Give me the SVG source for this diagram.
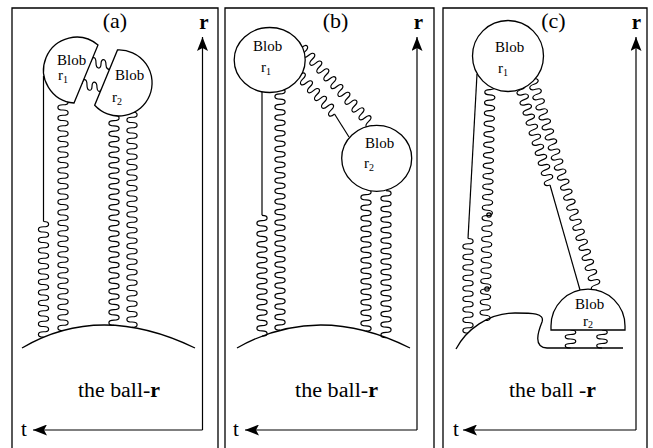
<svg xmlns="http://www.w3.org/2000/svg" width="653" height="448" viewBox="0 0 653 448">
<defs>
<style>
.fr{fill:none;stroke:#000;stroke-width:1.3}
.ax{fill:none;stroke:#000;stroke-width:1.2;marker-end:url(#ah)}
.ln{fill:none;stroke:#000;stroke-width:1.2}
.wv{fill:none;stroke:#000;stroke-width:1.2}
.ball{fill:none;stroke:#000;stroke-width:1.3}
.blob{fill:#fff;stroke:#000;stroke-width:1.3}
text{font-family:"Liberation Serif","Times New Roman",serif;fill:#000}
.ti{font-size:22px;text-anchor:middle}
.bl{font-size:15px}
.sub{font-size:10px}
.bt{font-size:20px;text-anchor:middle}
.axl{font-size:21px}
.axr{font-size:21px;font-weight:bold;text-anchor:middle}
</style>
<marker id="ah" markerUnits="userSpaceOnUse" viewBox="0 0 14 11" refX="14" refY="5.5" markerWidth="14" markerHeight="11" orient="auto">
<path d="M0,0 L14,5.5 L0,11 L3,5.5 Z" fill="#000"/>
</marker>
</defs>
<rect width="653" height="448" fill="#fff"/>

<g id="frames">
<path class="fr" d="M12,450 V8 H218 V450"/>
<path class="fr" d="M225,450 V8 H434 V450"/>
<path class="fr" d="M443,450 V8 H647 V450"/>
</g>

<g id="axes">
<path class="ax" d="M202.5,430 V37"/>
<path class="ax" d="M202.5,430 H33"/>
<path class="ax" d="M417,430 V37"/>
<path class="ax" d="M417,430 H245"/>
<path class="ax" d="M636,430 V37"/>
<path class="ax" d="M636,430 H463"/>
<text class="axr" x="204" y="29">r</text>
<text class="axr" x="418.5" y="29">r</text>
<text class="axr" x="636.5" y="29">r</text>
<text class="axl" x="21" y="436">t</text>
<text class="axl" x="233" y="436">t</text>
<text class="axl" x="453" y="436">t</text>
</g>

<g id="titles">
<text class="ti" x="115" y="28">(a)</text>
<text class="ti" x="335.5" y="28">(b)</text>
<text class="ti" x="553.5" y="28">(c)</text>
</g>

<g id="balls">
<path class="ball" d="M22,348 Q100,302 195,348"/>
<path class="ball" d="M237,348 Q318,302 410,348"/>
<path class="ball" d="M456,349 C466,330 488,313 515,313 C532,313 545,313 542,322 C538,332 533,347 547,348 L623,348"/>
<text class="bt" x="119" y="397" textLength="82" lengthAdjust="spacingAndGlyphs">the ball-<tspan font-weight="bold">r</tspan></text>
<text class="bt" x="336.5" y="397" textLength="83" lengthAdjust="spacingAndGlyphs">the ball-<tspan font-weight="bold">r</tspan></text>
<text class="bt" x="552.5" y="397" textLength="87" lengthAdjust="spacingAndGlyphs">the ball -<tspan font-weight="bold">r</tspan></text>
</g>

<g id="connectors">
<!-- panel a -->
<path class="ln" d="M43.5,76 V221.5"/>
<path class="wv" d="M43.5,221.5 c6.8,0 6.8,5.25 0,5.25 c-6.8,0 -6.8,5.25 0,5.25 c6.8,0 6.8,5.25 0,5.25 c-6.8,0 -6.8,5.25 0,5.25 c6.8,0 6.8,5.25 0,5.25 c-6.8,0 -6.8,5.25 0,5.25 c6.8,0 6.8,5.25 0,5.25 c-6.8,0 -6.8,5.25 0,5.25 c6.8,0 6.8,5.25 0,5.25 c-6.8,0 -6.8,5.25 0,5.25 c6.8,0 6.8,5.25 0,5.25 c-6.8,0 -6.8,5.25 0,5.25 c6.8,0 6.8,5.25 0,5.25 c-6.8,0 -6.8,5.25 0,5.25 c6.8,0 6.8,5.25 0,5.25 c-6.8,0 -6.8,5.25 0,5.25 c6.8,0 6.8,5.25 0,5.25 c-6.8,0 -6.8,5.25 0,5.25 c6.8,0 6.8,5.25 0,5.25 c-6.8,0 -6.8,5.25 0,5.25 c6.8,0 6.8,5.25 0,5.25 c-6.8,0 -6.8,5.25 0,5.25"/>
<path class="wv" d="M63,99.5 c6.8,0 6.8,5.25 0,5.25 c-6.8,0 -6.8,5.25 0,5.25 c6.8,0 6.8,5.25 0,5.25 c-6.8,0 -6.8,5.25 0,5.25 c6.8,0 6.8,5.25 0,5.25 c-6.8,0 -6.8,5.25 0,5.25 c6.8,0 6.8,5.25 0,5.25 c-6.8,0 -6.8,5.25 0,5.25 c6.8,0 6.8,5.25 0,5.25 c-6.8,0 -6.8,5.25 0,5.25 c6.8,0 6.8,5.25 0,5.25 c-6.8,0 -6.8,5.25 0,5.25 c6.8,0 6.8,5.25 0,5.25 c-6.8,0 -6.8,5.25 0,5.25 c6.8,0 6.8,5.25 0,5.25 c-6.8,0 -6.8,5.25 0,5.25 c6.8,0 6.8,5.25 0,5.25 c-6.8,0 -6.8,5.25 0,5.25 c6.8,0 6.8,5.25 0,5.25 c-6.8,0 -6.8,5.25 0,5.25 c6.8,0 6.8,5.25 0,5.25 c-6.8,0 -6.8,5.25 0,5.25 c6.8,0 6.8,5.25 0,5.25 c-6.8,0 -6.8,5.25 0,5.25 c6.8,0 6.8,5.25 0,5.25 c-6.8,0 -6.8,5.25 0,5.25 c6.8,0 6.8,5.25 0,5.25 c-6.8,0 -6.8,5.25 0,5.25 c6.8,0 6.8,5.25 0,5.25 c-6.8,0 -6.8,5.25 0,5.25 c6.8,0 6.8,5.25 0,5.25 c-6.8,0 -6.8,5.25 0,5.25 c6.8,0 6.8,5.25 0,5.25 c-6.8,0 -6.8,5.25 0,5.25 c6.8,0 6.8,5.25 0,5.25 c-6.8,0 -6.8,5.25 0,5.25 c6.8,0 6.8,5.25 0,5.25 c-6.8,0 -6.8,5.25 0,5.25 c6.8,0 6.8,5.25 0,5.25 c-6.8,0 -6.8,5.25 0,5.25 c6.8,0 6.8,5.25 0,5.25 c-6.8,0 -6.8,5.25 0,5.25 c6.8,0 6.8,5.25 0,5.25 c-6.8,0 -6.8,5.25 0,5.25"/>
<path class="wv" d="M114,115.3 c6.8,0 6.8,5.25 0,5.25 c-6.8,0 -6.8,5.25 0,5.25 c6.8,0 6.8,5.25 0,5.25 c-6.8,0 -6.8,5.25 0,5.25 c6.8,0 6.8,5.25 0,5.25 c-6.8,0 -6.8,5.25 0,5.25 c6.8,0 6.8,5.25 0,5.25 c-6.8,0 -6.8,5.25 0,5.25 c6.8,0 6.8,5.25 0,5.25 c-6.8,0 -6.8,5.25 0,5.25 c6.8,0 6.8,5.25 0,5.25 c-6.8,0 -6.8,5.25 0,5.25 c6.8,0 6.8,5.25 0,5.25 c-6.8,0 -6.8,5.25 0,5.25 c6.8,0 6.8,5.25 0,5.25 c-6.8,0 -6.8,5.25 0,5.25 c6.8,0 6.8,5.25 0,5.25 c-6.8,0 -6.8,5.25 0,5.25 c6.8,0 6.8,5.25 0,5.25 c-6.8,0 -6.8,5.25 0,5.25 c6.8,0 6.8,5.25 0,5.25 c-6.8,0 -6.8,5.25 0,5.25 c6.8,0 6.8,5.25 0,5.25 c-6.8,0 -6.8,5.25 0,5.25 c6.8,0 6.8,5.25 0,5.25 c-6.8,0 -6.8,5.25 0,5.25 c6.8,0 6.8,5.25 0,5.25 c-6.8,0 -6.8,5.25 0,5.25 c6.8,0 6.8,5.25 0,5.25 c-6.8,0 -6.8,5.25 0,5.25 c6.8,0 6.8,5.25 0,5.25 c-6.8,0 -6.8,5.25 0,5.25 c6.8,0 6.8,5.25 0,5.25 c-6.8,0 -6.8,5.25 0,5.25 c6.8,0 6.8,5.25 0,5.25 c-6.8,0 -6.8,5.25 0,5.25 c6.8,0 6.8,5.25 0,5.25 c-6.8,0 -6.8,5.25 0,5.25 c6.8,0 6.8,5.25 0,5.25 c-6.8,0 -6.8,5.25 0,5.25"/>
<path class="wv" d="M132,112 c6.8,0 6.8,5.25 0,5.25 c-6.8,0 -6.8,5.25 0,5.25 c6.8,0 6.8,5.25 0,5.25 c-6.8,0 -6.8,5.25 0,5.25 c6.8,0 6.8,5.25 0,5.25 c-6.8,0 -6.8,5.25 0,5.25 c6.8,0 6.8,5.25 0,5.25 c-6.8,0 -6.8,5.25 0,5.25 c6.8,0 6.8,5.25 0,5.25 c-6.8,0 -6.8,5.25 0,5.25 c6.8,0 6.8,5.25 0,5.25 c-6.8,0 -6.8,5.25 0,5.25 c6.8,0 6.8,5.25 0,5.25 c-6.8,0 -6.8,5.25 0,5.25 c6.8,0 6.8,5.25 0,5.25 c-6.8,0 -6.8,5.25 0,5.25 c6.8,0 6.8,5.25 0,5.25 c-6.8,0 -6.8,5.25 0,5.25 c6.8,0 6.8,5.25 0,5.25 c-6.8,0 -6.8,5.25 0,5.25 c6.8,0 6.8,5.25 0,5.25 c-6.8,0 -6.8,5.25 0,5.25 c6.8,0 6.8,5.25 0,5.25 c-6.8,0 -6.8,5.25 0,5.25 c6.8,0 6.8,5.25 0,5.25 c-6.8,0 -6.8,5.25 0,5.25 c6.8,0 6.8,5.25 0,5.25 c-6.8,0 -6.8,5.25 0,5.25 c6.8,0 6.8,5.25 0,5.25 c-6.8,0 -6.8,5.25 0,5.25 c6.8,0 6.8,5.25 0,5.25 c-6.8,0 -6.8,5.25 0,5.25 c6.8,0 6.8,5.25 0,5.25 c-6.8,0 -6.8,5.25 0,5.25 c6.8,0 6.8,5.25 0,5.25 c-6.8,0 -6.8,5.25 0,5.25 c6.8,0 6.8,5.25 0,5.25 c-6.8,0 -6.8,5.25 0,5.25 c6.8,0 6.8,5.25 0,5.25 c-6.8,0 -6.8,5.25 0,5.25 c6.8,0 6.8,5.25 0,5.25"/>
<path class="wv" d="M91,62 c1,-6 5,-6 5,1 c0,6 5,7 5,1 c0,-6 5,-6 5,1 c0,4 3,5 5,4"/>
<path class="wv" d="M82,84 c1,-6 5,-6 5,1.2 c0,6 5,7 5,1.2 c0,-6 5,-6 5,1.2 c0,4 3,5 4.5,2"/>
<!-- panel b -->
<path class="ln" d="M262,91.7 V215.35"/>
<path class="wv" d="M262,215.35 c6.8,0 6.8,5.25 0,5.25 c-6.8,0 -6.8,5.25 0,5.25 c6.8,0 6.8,5.25 0,5.25 c-6.8,0 -6.8,5.25 0,5.25 c6.8,0 6.8,5.25 0,5.25 c-6.8,0 -6.8,5.25 0,5.25 c6.8,0 6.8,5.25 0,5.25 c-6.8,0 -6.8,5.25 0,5.25 c6.8,0 6.8,5.25 0,5.25 c-6.8,0 -6.8,5.25 0,5.25 c6.8,0 6.8,5.25 0,5.25 c-6.8,0 -6.8,5.25 0,5.25 c6.8,0 6.8,5.25 0,5.25 c-6.8,0 -6.8,5.25 0,5.25 c6.8,0 6.8,5.25 0,5.25 c-6.8,0 -6.8,5.25 0,5.25 c6.8,0 6.8,5.25 0,5.25 c-6.8,0 -6.8,5.25 0,5.25 c6.8,0 6.8,5.25 0,5.25 c-6.8,0 -6.8,5.25 0,5.25 c6.8,0 6.8,5.25 0,5.25 c-6.8,0 -6.8,5.25 0,5.25 c6.8,0 6.8,5.25 0,5.25"/>
<path class="wv" d="M280,88.7 c6.8,0 6.8,5.25 0,5.25 c-6.8,0 -6.8,5.25 0,5.25 c6.8,0 6.8,5.25 0,5.25 c-6.8,0 -6.8,5.25 0,5.25 c6.8,0 6.8,5.25 0,5.25 c-6.8,0 -6.8,5.25 0,5.25 c6.8,0 6.8,5.25 0,5.25 c-6.8,0 -6.8,5.25 0,5.25 c6.8,0 6.8,5.25 0,5.25 c-6.8,0 -6.8,5.25 0,5.25 c6.8,0 6.8,5.25 0,5.25 c-6.8,0 -6.8,5.25 0,5.25 c6.8,0 6.8,5.25 0,5.25 c-6.8,0 -6.8,5.25 0,5.25 c6.8,0 6.8,5.25 0,5.25 c-6.8,0 -6.8,5.25 0,5.25 c6.8,0 6.8,5.25 0,5.25 c-6.8,0 -6.8,5.25 0,5.25 c6.8,0 6.8,5.25 0,5.25 c-6.8,0 -6.8,5.25 0,5.25 c6.8,0 6.8,5.25 0,5.25 c-6.8,0 -6.8,5.25 0,5.25 c6.8,0 6.8,5.25 0,5.25 c-6.8,0 -6.8,5.25 0,5.25 c6.8,0 6.8,5.25 0,5.25 c-6.8,0 -6.8,5.25 0,5.25 c6.8,0 6.8,5.25 0,5.25 c-6.8,0 -6.8,5.25 0,5.25 c6.8,0 6.8,5.25 0,5.25 c-6.8,0 -6.8,5.25 0,5.25 c6.8,0 6.8,5.25 0,5.25 c-6.8,0 -6.8,5.25 0,5.25 c6.8,0 6.8,5.25 0,5.25 c-6.8,0 -6.8,5.25 0,5.25 c6.8,0 6.8,5.25 0,5.25 c-6.8,0 -6.8,5.25 0,5.25 c6.8,0 6.8,5.25 0,5.25 c-6.8,0 -6.8,5.25 0,5.25 c6.8,0 6.8,5.25 0,5.25 c-6.8,0 -6.8,5.25 0,5.25 c6.8,0 6.8,5.25 0,5.25 c-6.8,0 -6.8,5.25 0,5.25 c6.8,0 6.8,5.25 0,5.25 c-6.8,0 -6.8,5.25 0,5.25 c6.8,0 6.8,5.25 0,5.25 c-6.8,0 -6.8,5.25 0,5.25"/>
<path class="wv" d="M366,189.35 c6.8,0 6.8,5.25 0,5.25 c-6.8,0 -6.8,5.25 0,5.25 c6.8,0 6.8,5.25 0,5.25 c-6.8,0 -6.8,5.25 0,5.25 c6.8,0 6.8,5.25 0,5.25 c-6.8,0 -6.8,5.25 0,5.25 c6.8,0 6.8,5.25 0,5.25 c-6.8,0 -6.8,5.25 0,5.25 c6.8,0 6.8,5.25 0,5.25 c-6.8,0 -6.8,5.25 0,5.25 c6.8,0 6.8,5.25 0,5.25 c-6.8,0 -6.8,5.25 0,5.25 c6.8,0 6.8,5.25 0,5.25 c-6.8,0 -6.8,5.25 0,5.25 c6.8,0 6.8,5.25 0,5.25 c-6.8,0 -6.8,5.25 0,5.25 c6.8,0 6.8,5.25 0,5.25 c-6.8,0 -6.8,5.25 0,5.25 c6.8,0 6.8,5.25 0,5.25 c-6.8,0 -6.8,5.25 0,5.25 c6.8,0 6.8,5.25 0,5.25 c-6.8,0 -6.8,5.25 0,5.25 c6.8,0 6.8,5.25 0,5.25 c-6.8,0 -6.8,5.25 0,5.25 c6.8,0 6.8,5.25 0,5.25 c-6.8,0 -6.8,5.25 0,5.25 c6.8,0 6.8,5.25 0,5.25"/>
<path class="wv" d="M386,190.6 c6.8,0 6.8,5.25 0,5.25 c-6.8,0 -6.8,5.25 0,5.25 c6.8,0 6.8,5.25 0,5.25 c-6.8,0 -6.8,5.25 0,5.25 c6.8,0 6.8,5.25 0,5.25 c-6.8,0 -6.8,5.25 0,5.25 c6.8,0 6.8,5.25 0,5.25 c-6.8,0 -6.8,5.25 0,5.25 c6.8,0 6.8,5.25 0,5.25 c-6.8,0 -6.8,5.25 0,5.25 c6.8,0 6.8,5.25 0,5.25 c-6.8,0 -6.8,5.25 0,5.25 c6.8,0 6.8,5.25 0,5.25 c-6.8,0 -6.8,5.25 0,5.25 c6.8,0 6.8,5.25 0,5.25 c-6.8,0 -6.8,5.25 0,5.25 c6.8,0 6.8,5.25 0,5.25 c-6.8,0 -6.8,5.25 0,5.25 c6.8,0 6.8,5.25 0,5.25 c-6.8,0 -6.8,5.25 0,5.25 c6.8,0 6.8,5.25 0,5.25 c-6.8,0 -6.8,5.25 0,5.25 c6.8,0 6.8,5.25 0,5.25 c-6.8,0 -6.8,5.25 0,5.25 c6.8,0 6.8,5.25 0,5.25 c-6.8,0 -6.8,5.25 0,5.25 c6.8,0 6.8,5.25 0,5.25 c-6.8,0 -6.8,5.25 0,5.25"/>
<path class="wv" transform="translate(301.7,47.5) rotate(-42)" d="M0,0 c6.8,0 6.8,5.25 0,5.25 c-6.8,0 -6.8,5.25 0,5.25 c6.8,0 6.8,5.25 0,5.25 c-6.8,0 -6.8,5.25 0,5.25 c6.8,0 6.8,5.25 0,5.25 c-6.8,0 -6.8,5.25 0,5.25 c6.8,0 6.8,5.25 0,5.25 c-6.8,0 -6.8,5.25 0,5.25 c6.8,0 6.8,5.25 0,5.25 c-6.8,0 -6.8,5.25 0,5.25 c6.8,0 6.8,5.25 0,5.25 c-6.8,0 -6.8,5.25 0,5.25 c6.8,0 6.8,5.25 0,5.25 c-6.8,0 -6.8,5.25 0,5.25 c6.8,0 6.8,5.25 0,5.25 c-6.8,0 -6.8,5.25 0,5.25 c6.8,0 6.8,5.25 0,5.25 c-6.8,0 -6.8,5.25 0,5.25 c6.8,0 6.8,5.25 0,5.25 c-6.8,0 -6.8,5.25 0,5.25"/>
<path class="wv" transform="translate(299.4,75) rotate(-42)" d="M0,0 c6.8,0 6.8,5.25 0,5.25 c-6.8,0 -6.8,5.25 0,5.25 c6.8,0 6.8,5.25 0,5.25 c-6.8,0 -6.8,5.25 0,5.25 c6.8,0 6.8,5.25 0,5.25 c-6.8,0 -6.8,5.25 0,5.25 c6.8,0 6.8,5.25 0,5.25 c-6.8,0 -6.8,5.25 0,5.25 c6.8,0 6.8,5.25 0,5.25 c-6.8,0 -6.8,5.25 0,5.25"/>
<path class="ln" d="M334.5,114 L349,137"/>
<!-- panel c -->
<path class="ln" d="M477,74 L468,238.5"/>
<path class="wv" d="M468,238.5 c6.8,0 6.8,5.25 0,5.25 c-6.8,0 -6.8,5.25 0,5.25 c6.8,0 6.8,5.25 0,5.25 c-6.8,0 -6.8,5.25 0,5.25 c6.8,0 6.8,5.25 0,5.25 c-6.8,0 -6.8,5.25 0,5.25 c6.8,0 6.8,5.25 0,5.25 c-6.8,0 -6.8,5.25 0,5.25 c6.8,0 6.8,5.25 0,5.25 c-6.8,0 -6.8,5.25 0,5.25 c6.8,0 6.8,5.25 0,5.25 c-6.8,0 -6.8,5.25 0,5.25 c6.8,0 6.8,5.25 0,5.25 c-6.8,0 -6.8,5.25 0,5.25 c6.8,0 6.8,5.25 0,5.25 c-6.8,0 -6.8,5.25 0,5.25 c6.8,0 6.8,5.25 0,5.25 c-6.8,0 -6.8,5.25 0,5.25"/>
<path class="wv" transform="translate(490.06,84.3) rotate(1.23)" d="M0,0 c6.8,0 6.8,5.25 0,5.25 c-6.8,0 -6.8,5.25 0,5.25 c6.8,0 6.8,5.25 0,5.25 c-6.8,0 -6.8,5.25 0,5.25 c6.8,0 6.8,5.25 0,5.25 c-6.8,0 -6.8,5.25 0,5.25 c6.8,0 6.8,5.25 0,5.25 c-6.8,0 -6.8,5.25 0,5.25 c6.8,0 6.8,5.25 0,5.25 c-6.8,0 -6.8,5.25 0,5.25 c6.8,0 6.8,5.25 0,5.25 c-6.8,0 -6.8,5.25 0,5.25 c6.8,0 6.8,5.25 0,5.25 c-6.8,0 -6.8,5.25 0,5.25 c6.8,0 6.8,5.25 0,5.25 c-6.8,0 -6.8,5.25 0,5.25 c6.8,0 6.8,5.25 0,5.25 c-6.8,0 -6.8,5.25 0,5.25 c6.8,0 6.8,5.25 0,5.25 c-6.8,0 -6.8,5.25 0,5.25 c6.8,0 6.8,5.25 0,5.25 c-6.8,0 -6.8,5.25 0,5.25 c6.8,0 6.8,5.25 0,5.25 c-6.8,0 -6.8,5.25 0,5.25 c6.8,0 6.8,5.25 0,5.25 c-6.8,0 -6.8,5.25 0,5.25 c6.8,0 6.8,5.25 0,5.25 c-6.8,0 -6.8,5.25 0,5.25 c6.8,0 6.8,5.25 0,5.25 c-6.8,0 -6.8,5.25 0,5.25 c6.8,0 6.8,5.25 0,5.25 c-6.8,0 -6.8,5.25 0,5.25 c6.8,0 6.8,5.25 0,5.25 c-6.8,0 -6.8,5.25 0,5.25 c6.8,0 6.8,5.25 0,5.25 c-6.8,0 -6.8,5.25 0,5.25 c6.8,0 6.8,5.25 0,5.25 c-6.8,0 -6.8,5.25 0,5.25 c6.8,0 6.8,5.25 0,5.25 c-6.8,0 -6.8,5.25 0,5.25 c6.8,0 6.8,5.25 0,5.25 c-6.8,0 -6.8,5.25 0,5.25 c6.8,0 6.8,5.25 0,5.25 c-6.8,0 -6.8,5.25 0,5.25 c6.8,0 6.8,5.25 0,5.25"/>
<circle class="wv" cx="489" cy="215" r="2.2"/>
<circle class="wv" cx="487" cy="289" r="2.2"/>
<path class="wv" transform="translate(519.65,84.5) rotate(-16.81)" d="M0,0 c6.8,0 6.8,5.25 0,5.25 c-6.8,0 -6.8,5.25 0,5.25 c6.8,0 6.8,5.25 0,5.25 c-6.8,0 -6.8,5.25 0,5.25 c6.8,0 6.8,5.25 0,5.25 c-6.8,0 -6.8,5.25 0,5.25 c6.8,0 6.8,5.25 0,5.25 c-6.8,0 -6.8,5.25 0,5.25 c6.8,0 6.8,5.25 0,5.25 c-6.8,0 -6.8,5.25 0,5.25 c6.8,0 6.8,5.25 0,5.25 c-6.8,0 -6.8,5.25 0,5.25 c6.8,0 6.8,5.25 0,5.25 c-6.8,0 -6.8,5.25 0,5.25 c6.8,0 6.8,5.25 0,5.25 c-6.8,0 -6.8,5.25 0,5.25 c6.8,0 6.8,5.25 0,5.25 c-6.8,0 -6.8,5.25 0,5.25 c6.8,0 6.8,5.25 0,5.25 c-6.8,0 -6.8,5.25 0,5.25"/>
<path class="ln" d="M550,185 L580,290"/>
<path class="wv" transform="translate(532.44,79.2) rotate(-17.03)" d="M0,0 c6.8,0 6.8,5.25 0,5.25 c-6.8,0 -6.8,5.25 0,5.25 c6.8,0 6.8,5.25 0,5.25 c-6.8,0 -6.8,5.25 0,5.25 c6.8,0 6.8,5.25 0,5.25 c-6.8,0 -6.8,5.25 0,5.25 c6.8,0 6.8,5.25 0,5.25 c-6.8,0 -6.8,5.25 0,5.25 c6.8,0 6.8,5.25 0,5.25 c-6.8,0 -6.8,5.25 0,5.25 c6.8,0 6.8,5.25 0,5.25 c-6.8,0 -6.8,5.25 0,5.25 c6.8,0 6.8,5.25 0,5.25 c-6.8,0 -6.8,5.25 0,5.25 c6.8,0 6.8,5.25 0,5.25 c-6.8,0 -6.8,5.25 0,5.25 c6.8,0 6.8,5.25 0,5.25 c-6.8,0 -6.8,5.25 0,5.25 c6.8,0 6.8,5.25 0,5.25 c-6.8,0 -6.8,5.25 0,5.25 c6.8,0 6.8,5.25 0,5.25 c-6.8,0 -6.8,5.25 0,5.25 c6.8,0 6.8,5.25 0,5.25 c-6.8,0 -6.8,5.25 0,5.25 c6.8,0 6.8,5.25 0,5.25 c-6.8,0 -6.8,5.25 0,5.25 c6.8,0 6.8,5.25 0,5.25 c-6.8,0 -6.8,5.25 0,5.25 c6.8,0 6.8,5.25 0,5.25 c-6.8,0 -6.8,5.25 0,5.25 c6.8,0 6.8,5.25 0,5.25 c-6.8,0 -6.8,5.25 0,5.25 c6.8,0 6.8,5.25 0,5.25 c-6.8,0 -6.8,5.25 0,5.25 c6.8,0 6.8,5.25 0,5.25 c-6.8,0 -6.8,5.25 0,5.25 c6.8,0 6.8,5.25 0,5.25 c-6.8,0 -6.8,5.25 0,5.25 c6.8,0 6.8,5.25 0,5.25 c-6.8,0 -6.8,5.25 0,5.25 c6.8,0 6.8,5.25 0,5.25 c-6.8,0 -6.8,5.25 0,5.25"/>
<path class="wv" d="M570.5,330 c7,0 7,4.5 0,4.5 c-7,0 -7,4.5 0,4.5 c7,0 7,4.5 0,4.5 c-7,0 -7,4.5 0,4.5"/>
<path class="wv" d="M602,330 c7,0 7,4.5 0,4.5 c-7,0 -7,4.5 0,4.5 c7,0 7,4.5 0,4.5 c-7,0 -7,4.5 0,4.5"/>
</g>

<g id="blob-a1">
<path class="blob" d="M98,45 A33,33 0 1 0 74,103 Z"/>
<text class="bl" x="57" y="65">Blob</text>
<text class="bl" x="58" y="80">r<tspan class="sub" dy="3">1</tspan></text>
</g>
<g id="blob-a2">
<path class="blob" d="M117.5,50 A33,33 0 1 1 94.7,105.2 Z"/>
<text class="bl" x="115" y="80">Blob</text>
<text class="bl" x="112" y="102">r<tspan class="sub" dy="3">2</tspan></text>
</g>
<g id="blob-b1">
<ellipse class="blob" cx="269.7" cy="60" rx="35.5" ry="32.5"/>
<text class="bl" x="253" y="51">Blob</text>
<text class="bl" x="261" y="72">r<tspan class="sub" dy="3">1</tspan></text>
</g>
<g id="blob-b2">
<ellipse class="blob" cx="376.7" cy="158.3" rx="35" ry="33"/>
<text class="bl" x="365" y="148">Blob</text>
<text class="bl" x="364" y="168">r<tspan class="sub" dy="3">2</tspan></text>
</g>
<g id="blob-c1">
<circle class="blob" cx="508" cy="56" r="35.5"/>
<text class="bl" x="495" y="52">Blob</text>
<text class="bl" x="498" y="73">r<tspan class="sub" dy="3">1</tspan></text>
</g>
<g id="blob-c2">
<path class="blob" d="M551,330 L551,326 A37,37 0 0 1 625,326 L625,330 Z"/>
<text class="bl" x="575" y="309">Blob</text>
<text class="bl" x="583" y="325.5">r<tspan class="sub" dy="2">2</tspan></text>
</g>
</svg>
